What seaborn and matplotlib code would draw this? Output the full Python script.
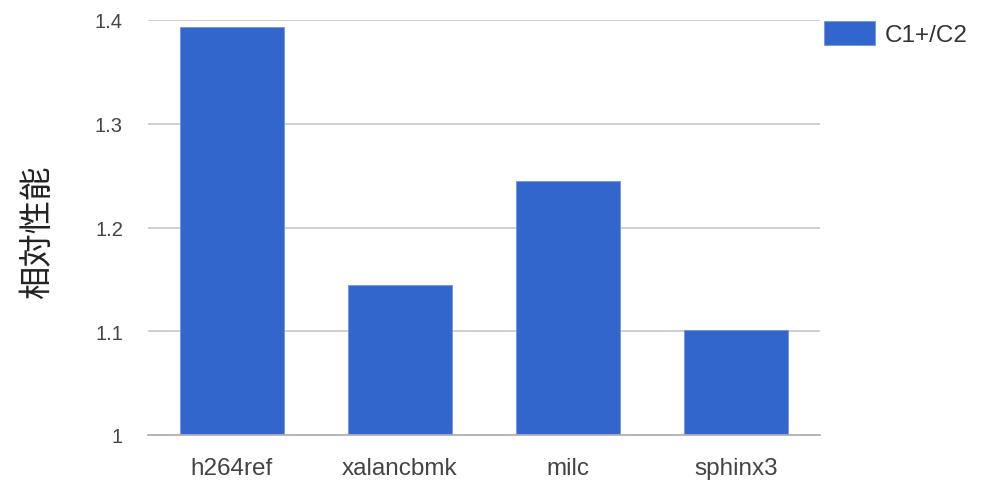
import matplotlib
matplotlib.use("Agg")
import matplotlib.pyplot as plt
import seaborn as sns
import pandas as pd

benchmarks = ["h264ref", "xalancbmk", "milc", "sphinx3"]
ratio = [1.393, 1.145, 1.245, 1.101]
series_name = "C1+/C2"
y_ticks = [1.0, 1.1, 1.2, 1.3, 1.4]
y_tick_labels = ["1", "1.1", "1.2", "1.3", "1.4"]

sns.set_theme(style="white")
plt.rcParams["font.family"] = ["Liberation Sans", "Noto Sans CJK JP", "DejaVu Sans"]

df = pd.DataFrame({"benchmark": benchmarks, "ratio": ratio, "series": series_name})

W, H = 995, 481
fig = plt.figure(figsize=(W / 100, H / 100), dpi=100)
ax = fig.add_axes([148 / W, (H - 436) / H, 672 / W, 415 / H])

sns.barplot(data=df, x="benchmark", y="ratio", hue="series",
            palette=["#3366cc"], width=0.62, saturation=1, ax=ax,
            edgecolor="#7393dc", linewidth=0.6)

ax.set_ylim(1.0, 1.4)
ax.set_xlim(-0.5, 3.5)
ax.set_yticks(y_ticks)
ax.set_yticklabels(y_tick_labels)
ax.yaxis.grid(True, color="#cccccc", linewidth=1.3)
ax.set_axisbelow(True)
for s in ["top", "right", "left"]:
    ax.spines[s].set_visible(False)
ax.spines["bottom"].set_color("#b0b0b0")
ax.spines["bottom"].set_linewidth(1.3)
ax.tick_params(axis="both", length=0, colors="#444444")
ax.tick_params(axis="x", labelsize=17.5, pad=15.5)
ax.tick_params(axis="y", labelsize=14.5, pad=18)
ax.set_xlabel("")
ax.set_ylabel("相対性能", family=["Noto Sans CJK JP", "DejaVu Sans"],
              fontsize=24, color="#222222")
ax.yaxis.set_label_coords(-0.139, 0.49)

leg = ax.legend(loc="upper left", bbox_to_anchor=(824 / W, 1 - 22 / H),
                bbox_transform=fig.transFigure, frameon=False,
                fontsize=17.5, handlelength=2.1, handleheight=1.12,
                handletextpad=0.4, borderpad=0, borderaxespad=0,
                labelcolor="#333333")

fig.savefig("out.png", dpi=100)
